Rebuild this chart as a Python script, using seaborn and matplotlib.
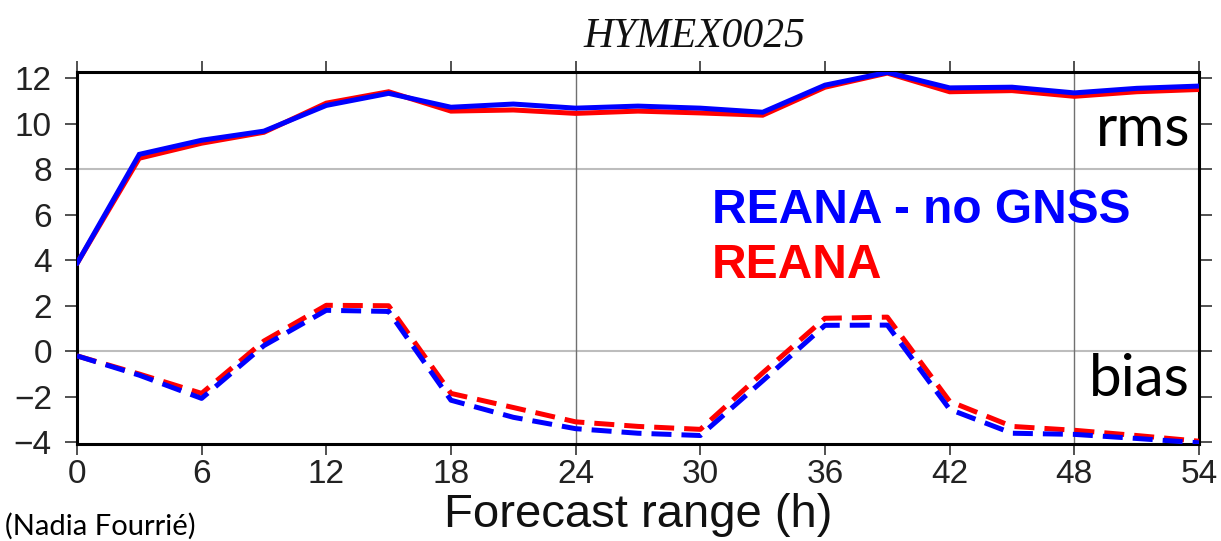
import numpy as np
import pandas as pd
import seaborn as sns
import matplotlib
matplotlib.use("Agg")
import matplotlib.pyplot as plt

# Forecast ranges (hours)
hours = [0, 3, 6, 9, 12, 15, 18, 21, 24, 27, 30, 33, 36, 39, 42, 45, 48, 51, 54]

# RMS scores
rms_reana_nognss = [3.85, 8.65, 9.27, 9.67, 10.8, 11.33, 10.72, 10.86, 10.68, 10.77,
                    10.68, 10.5, 11.69, 12.25, 11.57, 11.6, 11.35, 11.55, 11.65]
rms_reana = [3.85, 8.48, 9.14, 9.62, 10.9, 11.4, 10.55, 10.6, 10.45, 10.55,
             10.47, 10.37, 11.6, 12.22, 11.4, 11.45, 11.2, 11.4, 11.5]

# Bias scores
bias_reana_nognss = [-0.2, -1.05, -2.07, 0.25, 1.8, 1.75, -2.15, -2.9, -3.4, -3.6,
                     -3.7, -1.3, 1.14, 1.15, -2.55, -3.6, -3.65, -3.83, -4.02]
bias_reana = [-0.2, -1.0, -1.85, 0.45, 2.02, 2.0, -1.85, -2.47, -3.1, -3.3,
              -3.43, -0.95, 1.45, 1.5, -2.2, -3.3, -3.47, -3.7, -3.95]

x_ticks = [0, 6, 12, 18, 24, 30, 36, 42, 48, 54]
y_ticks = [-4, -2, 0, 2, 4, 6, 8, 10, 12]

BLUE = "#0000ff"
RED = "#ff0000"

sns.set_theme(style="white")
plt.rcParams["font.family"] = ["Liberation Sans", "DejaVu Sans"]

fig = plt.figure(figsize=(12.21, 5.41), dpi=100)
ax = fig.add_axes([0.063, 0.179, 0.919, 0.688])

# Reference grid: light horizontal lines, darker vertical lines
for yv in (0, 8):
    ax.axhline(yv, color="#bdbdbd", lw=1.5, zorder=0)
for xv in (24, 48):
    ax.axvline(xv, color="#707070", lw=1.0, zorder=0)

df = pd.DataFrame({
    "hour": hours * 4,
    "value": rms_reana + rms_reana_nognss + bias_reana + bias_reana_nognss,
    "series": (["rms_reana"] * len(hours) + ["rms_nognss"] * len(hours)
               + ["bias_reana"] * len(hours) + ["bias_nognss"] * len(hours)),
})

styles = {
    "rms_reana": dict(color=RED, linestyle="-"),
    "rms_nognss": dict(color=BLUE, linestyle="-"),
    "bias_reana": dict(color=RED, linestyle=(0, (4, 2))),
    "bias_nognss": dict(color=BLUE, linestyle=(0, (4, 2))),
}
for name, st in styles.items():
    sub = df[df["series"] == name]
    sns.lineplot(data=sub, x="hour", y="value", ax=ax, color=st["color"],
                 linestyle=st["linestyle"], lw=3.6, legend=False,
                 solid_joinstyle="miter", dash_capstyle="butt", zorder=3)

ax.set_xlim(0, 54)
ax.set_ylim(-4.08, 12.27)
ax.set_xticks(x_ticks)
ax.set_yticks(y_ticks)
ax.set_yticklabels([str(v).replace("-", "\u2212") for v in y_ticks])

for sp in ax.spines.values():
    sp.set_visible(True)
    sp.set_color("black")
    sp.set_linewidth(2.2)

ax.tick_params(axis="y", which="both", direction="out", left=True, right=True,
               length=9, width=1.2, color="#333333", labelsize=24, pad=9,
               labelcolor="#222222")
ax.tick_params(axis="x", which="both", direction="out", bottom=True, top=True,
               length=8, width=1.2, color="#333333", labelsize=24, pad=3,
               labelcolor="#222222")
ax.grid(False)

ax.set_xlabel("Forecast range (h)", fontsize=34, color="#111111", labelpad=2)
ax.set_ylabel("")

ax.set_title("HYMEX0025", fontsize=30, fontstyle="italic",
             family=["Liberation Serif", "DejaVu Serif"], color="#111111",
             pad=18, x=0.55)

ax.text(0.566, 0.629, "REANA - no GNSS", transform=ax.transAxes, color=BLUE,
        fontsize=34.5, fontweight="bold", ha="left", va="center")
ax.text(0.566, 0.481, "REANA", transform=ax.transAxes, color=RED,
        fontsize=34.5, fontweight="bold", ha="left", va="center")

ax.text(0.992, 0.845, "rms", transform=ax.transAxes, color="black",
        fontsize=42, family=["Lato", "DejaVu Sans"], ha="right", va="center")
ax.text(0.992, 0.175, "bias", transform=ax.transAxes, color="black",
        fontsize=42, family=["Lato", "DejaVu Sans"], ha="right", va="center")

fig.text(0.004, 0.028, "(Nadia Fourri\u00e9)", fontsize=21,
         family=["Lato", "DejaVu Sans"], color="black", ha="left", va="center")

fig.savefig("out.png", dpi=100)
